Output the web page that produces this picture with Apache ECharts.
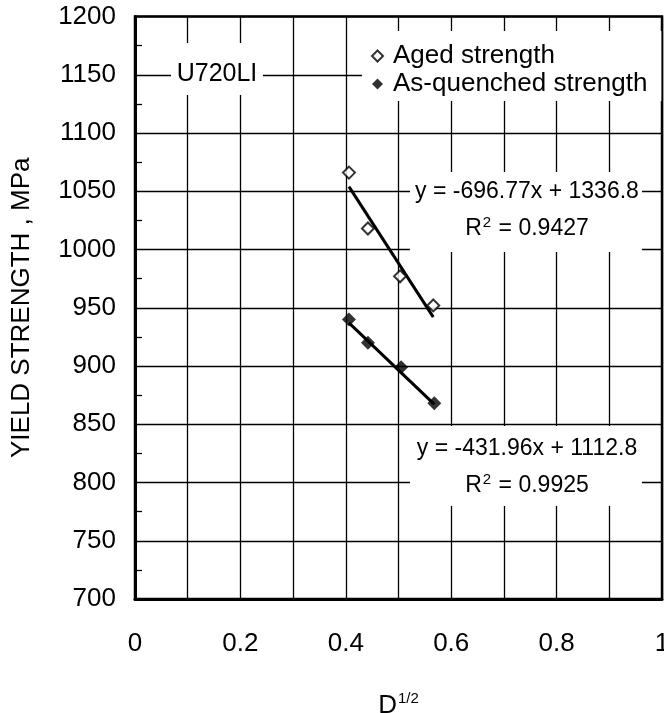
<!DOCTYPE html>
<html>
<head>
<meta charset="utf-8">
<script src="https://cdn.jsdelivr.net/npm/echarts@6/dist/echarts.min.js"></script>
<style>
  html, body { margin: 0; padding: 0; background: #fff; }
  #chart { width: 664px; height: 713px; }
</style>
</head>
<body>
<div id="chart"></div>
<script>
// ---- data ----
const agedX = [0.406, 0.442, 0.503, 0.566];
const agedY = [1066, 1018, 977, 952];
const quenchedX = [0.406, 0.442, 0.505, 0.568];
const quenchedY = [940, 920, 899, 868];
// fitted trend line end points (as drawn)
const agedTrendX = [0.406, 0.566];
const agedTrendY = [1054, 942];
const quenchedTrendX = [0.406, 0.568];
const quenchedTrendY = [937, 867];
const seriesNames = ['Aged strength', 'As-quenched strength'];
const alloyLabel = 'U720LI';
const agedEq = ['y = -696.77x + 1336.8', '0.9427'];
const quenchedEq = ['y = -431.96x + 1112.8', '0.9925'];

const FONT = "'Liberation Sans', Arial, sans-serif";
const pairs = (xs, ys) => xs.map((x, i) => [x, ys[i]]);

const chart = echarts.init(document.getElementById('chart'), null, { renderer: 'canvas' });

function eqGraphic(eq, cx, y1, y2, box) {
  return [
    { type: 'rect', shape: box, style: { fill: '#fff' }, z: 1 },
    { type: 'text', x: cx, y: y1, z: 2,
      style: { text: eq[0], font: '23px ' + FONT, fill: '#000', align: 'center', verticalAlign: 'middle' } },
    { type: 'text', x: cx, y: y2, z: 2,
      style: { text: 'R{sup|2} = ' + eq[1], font: '23px ' + FONT, fill: '#000', align: 'center', verticalAlign: 'middle',
        rich: { sup: { fontSize: 15, fontFamily: FONT, padding: [0, 1, 12, 1], fill: '#000' } } } }
  ];
}

const option = {
  animation: false,
  backgroundColor: '#fff',
  textStyle: { fontFamily: FONT },
  grid: {
    left: 135, right: 2, top: 16.5, bottom: 114,
    outerBoundsMode: 'none',
    containLabel: false,
    show: true, borderColor: '#000', borderWidth: 2.5, backgroundColor: 'transparent'
  },
  legend: {
    data: [
      { name: seriesNames[0], icon: 'emptyDiamond', itemStyle: { color: '#000', borderColor: '#000', borderWidth: 2 } },
      { name: seriesNames[1], icon: 'diamond', itemStyle: { color: '#000' } }
    ],
    orient: 'vertical',
    left: 362, top: 31,
    padding: [11, 14, 3, 9],
    itemWidth: 11, itemHeight: 11,
    itemGap: 0,
    backgroundColor: '#fff',
    textStyle: { fontSize: 26, fontFamily: FONT, color: '#000', lineHeight: 28, padding: [0, 0, 0, 5] },
    selectedMode: false
  },
  xAxis: {
    type: 'value', min: 0, max: 1, interval: 0.2,
    name: 'D{sup|1/2}',
    nameLocation: 'middle', nameGap: 92, nameMoveOverlap: false,
    nameTextStyle: {
      fontSize: 26, fontFamily: FONT, color: '#000',
      rich: { sup: { fontSize: 15, fontFamily: FONT, padding: [0, 0, 14, 1], color: '#000' } }
    },
    axisLine: { show: true, onZero: false, lineStyle: { color: '#000', width: 3 } },
    axisTick: { show: false },
    axisLabel: { fontSize: 26, fontFamily: FONT, color: '#000', margin: 32, hideOverlap: false,
      formatter: v => String(Math.round(v * 10) / 10) },
    splitLine: { show: true, lineStyle: { color: '#000', width: 1.3 } },
    minorTick: { show: false, splitNumber: 2 },
    minorSplitLine: { show: true, lineStyle: { color: '#000', width: 1.3 } }
  },
  yAxis: {
    type: 'value', min: 700, max: 1200, interval: 50,
    name: 'YIELD STRENGTH , MPa',
    nameLocation: 'middle', nameGap: 100, nameRotate: 90, nameMoveOverlap: false,
    nameTextStyle: { fontSize: 26, fontFamily: FONT, color: '#000' },
    axisLine: { show: true, onZero: false, lineStyle: { color: '#000', width: 3 } },
    axisTick: { show: false },
    minorTick: { show: true, splitNumber: 2, length: -7, lineStyle: { color: '#000', width: 1.3 } },
    axisLabel: { fontSize: 26, fontFamily: FONT, color: '#000', margin: 19,
      formatter: v => String(v) },
    splitLine: { show: true, lineStyle: { color: '#000', width: 1.3 } }
  },
  graphic: {
    elements: [
      { type: 'rect', shape: { x: 171, y: 43, width: 92, height: 52 }, style: { fill: '#fff' }, z: 1 },
      { type: 'text', x: 217, y: 74, z: 2,
        style: { text: alloyLabel, font: '25px ' + FONT, fill: '#000', align: 'center', verticalAlign: 'middle' } }
    ]
      .concat(eqGraphic(agedEq, 527, 192, 229, { x: 410, y: 172, width: 232, height: 80 }))
      .concat(eqGraphic(quenchedEq, 527, 449, 486, { x: 410, y: 426, width: 232, height: 80 }))
  },
  series: [
    {
      name: seriesNames[0], type: 'scatter', z: 5,
      symbol: 'emptyDiamond', symbolSize: 12,
      itemStyle: { color: '#000', borderColor: '#000', borderWidth: 2 },
      data: pairs(agedX, agedY)
    },
    {
      name: seriesNames[1], type: 'scatter', z: 5,
      symbol: 'diamond', symbolSize: 14,
      itemStyle: { color: '#000' },
      data: pairs(quenchedX, quenchedY)
    },
    {
      name: 'aged trend', type: 'line', z: 4, silent: true,
      symbol: 'none', lineStyle: { color: '#000', width: 3 },
      data: pairs(agedTrendX, agedTrendY)
    },
    {
      name: 'quenched trend', type: 'line', z: 4, silent: true,
      symbol: 'none', lineStyle: { color: '#000', width: 3 },
      data: pairs(quenchedTrendX, quenchedTrendY)
    }
  ]
};
chart.setOption(option);
</script>
</body>
</html>
